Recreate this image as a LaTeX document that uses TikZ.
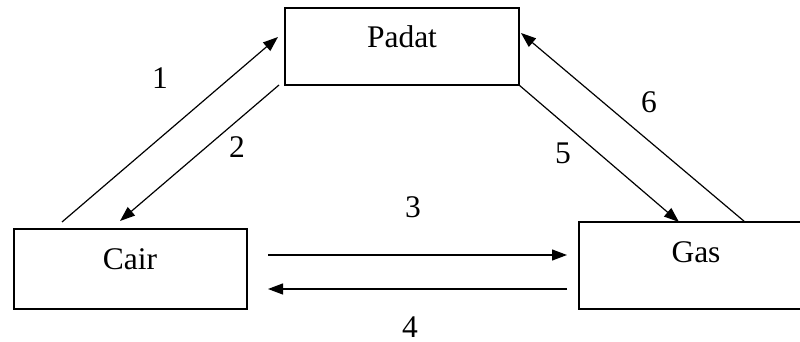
\documentclass[tikz,border=0pt]{standalone}
\usepackage{fontspec}
\setmainfont{Liberation Serif}
\usetikzlibrary{arrows.meta}
\begin{document}
\begin{tikzpicture}[x=0.5pt,y=-0.5pt,
  box/.style={draw,line width=0.6pt,inner sep=0pt,minimum width=#1},
  lbl/.style={anchor=base,inner sep=0pt,font=\fontsize{15.75}{18}\selectfont},
  arr/.style={line width=0.6pt,-{Triangle[length=7.5pt,width=5.5pt]}},
  ln/.style={line width=0.6pt}]
\useasboundingbox (0,0) rectangle (800,342);
\clip (0,0) rectangle (800,342);
% boxes
\node[box=117pt,minimum height=38.5pt] (padat) at (402,46.5) {};
\node[box=116.5pt,minimum height=40pt] (cair) at (130.5,269) {};
\node[box=113pt,minimum height=43.5pt] (gas) at (692,265.5) {};
% box texts
\node[lbl] (padatT) at (402,48) {Padat};
\node[lbl] (cairT) at (130,270) {Cair};
\node[lbl] (gasT) at (696,263) {Gas};
% connector ends
\coordinate (a1s) at (62,222);
\coordinate (a1e) at (278,37);
\coordinate (a2s) at (279,85);
\coordinate (a2e) at (120,221);
\coordinate (a5s) at (519,85);
\coordinate (a5e) at (679,222);
\coordinate (a6s) at (745,222);
\coordinate (a6e) at (521,33);
\coordinate (a3s) at (268,255);
\coordinate (a3e) at (567,255);
\coordinate (a4s) at (567,289);
\coordinate (a4e) at (268,289);
% connectors
\draw[arr] (a1s) -- (a1e);
\draw[arr] (a2s) -- (a2e);
\draw[arr] (a5s) -- (a5e);
\draw[arr] (a6s) -- (a6e);
\draw[arr] (a3s) -- (a3e);
\draw[arr] (a4s) -- (a4e);
% labels
\node[lbl] (l1) at (160,89) {1};
\node[lbl] (l2) at (237,158) {2};
\node[lbl] (l3) at (413,218) {3};
\node[lbl] (l4) at (410,338) {4};
\node[lbl] (l5) at (563,164) {5};
\node[lbl] (l6) at (649,113) {6};
\end{tikzpicture}
\end{document}
